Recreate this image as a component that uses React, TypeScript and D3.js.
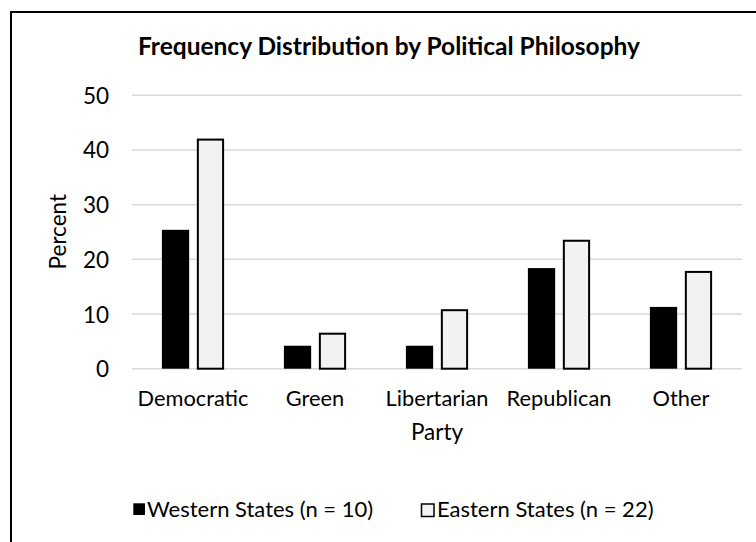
import React from "react";
import * as d3 from "d3";

// Party categories and percentages per region
const parties = ["Democratic", "Green", "Libertarian", "Republican", "Other"];
const western = [25.4, 4.2, 4.2, 18.4, 11.3];
const eastern = [41.9, 6.4, 10.7, 23.4, 17.7];
const seriesNames = ["Western States (n = 10)", "Eastern States (n = 22)"];
const yTicks = [0, 10, 20, 30, 40, 50];

const W = 756;
const H = 542;
const FONT = "Lato, 'Open Sans', sans-serif";

export default function App() {
  const x = d3
    .scaleBand<string>()
    .domain(parties)
    .range([132, 742])
    .paddingInner(0.49)
    .paddingOuter(0.245);
  const inner = d3
    .scaleBand<string>()
    .domain(["w", "e"])
    .range([0, x.bandwidth()])
    .paddingInner(0.22);
  const y = d3.scaleLinear().domain([0, 50]).range([368.7, 95.3]);

  const rows = parties.map((p, i) => ({ party: p, w: western[i], e: eastern[i] }));

  return (
    <svg
      width={W}
      height={H}
      style={{ position: "absolute", left: 0, top: 0, background: "#fff" }}
      fontFamily={FONT}
    >
      <rect x={0} y={0} width={W} height={H} fill="#fff" />
      {/* chart frame (extends past the right and bottom edges) */}
      <rect x={11} y={12} width={W + 20} height={H + 20} fill="none" stroke="#000" strokeWidth={2} />

      <text x={389} y={55} textAnchor="middle" fontWeight="bold" fontSize={24.5} fill="#000">
        Frequency Distribution by Political Philosophy
      </text>

      {/* gridlines */}
      {yTicks.map((t) => (
        <line key={t} x1={132} x2={742} y1={y(t)} y2={y(t)} stroke="#d9d9d9" strokeWidth={1.5} />
      ))}
      {yTicks.map((t) => (
        <text
          key={"l" + t}
          x={109}
          y={y(t)}
          textAnchor="end"
          dominantBaseline="central"
          fontSize={22.5}
          fill="#000"
        >
          {t}
        </text>
      ))}
      <text
        transform={`translate(57.5,231.7) rotate(-90)`}
        textAnchor="middle"
        dominantBaseline="central"
        fontSize={22.5}
        fill="#000"
      >
        Percent
      </text>

      {/* bars */}
      {rows.map((r) => (
        <g key={r.party} transform={`translate(${x(r.party)},0)`}>
          <rect
            x={inner("w")}
            y={y(r.w)}
            width={inner.bandwidth()}
            height={y(0) - y(r.w)}
            fill="#000"
          />
          <rect
            x={(inner("e") as number) + 1}
            y={y(r.e)}
            width={inner.bandwidth() - 2}
            height={y(0) - y(r.e)}
            fill="#f2f2f2"
            stroke="#000"
            strokeWidth={2}
          />
        </g>
      ))}

      {parties.map((p) => (
        <text
          key={"c" + p}
          x={(x(p) as number) + x.bandwidth() / 2}
          y={406}
          textAnchor="middle"
          fontSize={21.8}
          fill="#000"
        >
          {p}
        </text>
      ))}
      <text x={437} y={440} textAnchor="middle" fontSize={22.5} fill="#000">
        Party
      </text>

      {/* legend */}
      <rect x={133.3} y={503.3} width={11.7} height={11.7} fill="#000" />
      <text x={147} y={516.5} fontSize={22} fill="#000">
        {seriesNames[0]}
      </text>
      <rect x={421.5} y={504} width={12.5} height={12.5} fill="#f2f2f2" stroke="#000" strokeWidth={1.5} />
      <text x={437} y={516.5} fontSize={22} fill="#000">
        {seriesNames[1]}
      </text>
    </svg>
  );
}
